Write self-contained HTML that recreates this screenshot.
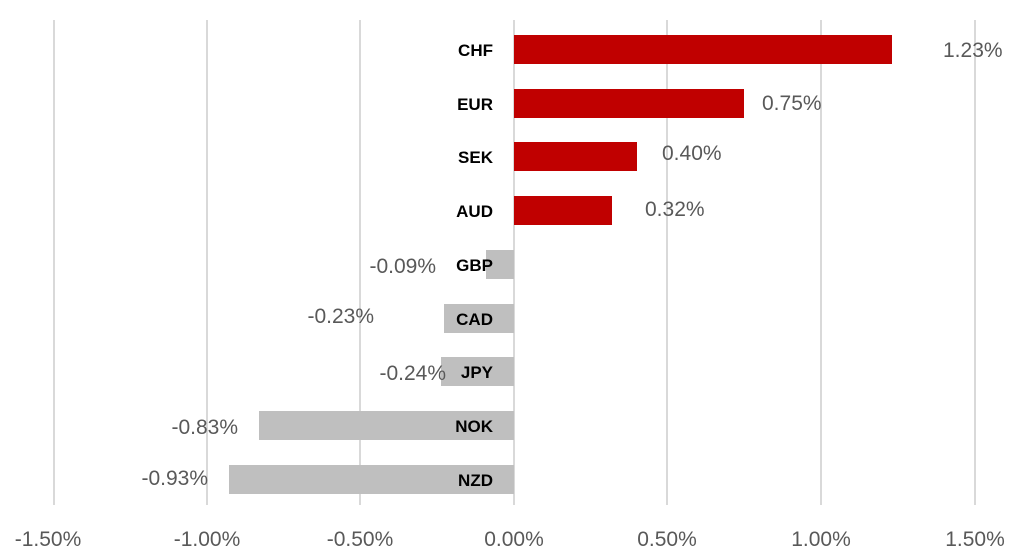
<!DOCTYPE html>
<html><head><meta charset="utf-8"><style>
body{margin:0;background:#fff;}
svg{display:block;}
.v{font-family:"Liberation Sans",sans-serif;font-size:21px;fill:#595959;}
.c{font-family:"Liberation Sans",sans-serif;font-size:17px;font-weight:bold;fill:#000;text-anchor:end;}
.t{font-family:"Liberation Sans",sans-serif;font-size:21px;fill:#595959;text-anchor:middle;}
</style></head><body>
<svg width="1022" height="557" xmlns="http://www.w3.org/2000/svg">
<g stroke="#d9d9d9" stroke-width="2">
<line x1="54" y1="20" x2="54" y2="505"/><line x1="207" y1="20" x2="207" y2="505"/>
<line x1="360" y1="20" x2="360" y2="505"/><line x1="514" y1="20" x2="514" y2="505"/>
<line x1="667" y1="20" x2="667" y2="505"/><line x1="821" y1="20" x2="821" y2="505"/>
<line x1="975" y1="20" x2="975" y2="505"/>
</g>
<g fill="#c00000">
<rect x="514" y="35" width="378" height="29"/>
<rect x="514" y="89" width="230" height="29"/>
<rect x="514" y="142" width="123" height="29"/>
<rect x="514" y="196" width="98" height="29"/>
</g>
<g fill="#bfbfbf">
<rect x="486" y="250" width="28" height="29"/>
<rect x="444" y="304" width="70" height="29"/>
<rect x="441" y="357" width="73" height="29"/>
<rect x="259" y="411" width="255" height="29"/>
<rect x="229" y="465" width="285" height="29"/>
</g>
<text class="c" x="493" y="56">CHF</text>
<text class="c" x="493" y="110">EUR</text>
<text class="c" x="493" y="163">SEK</text>
<text class="c" x="493" y="217">AUD</text>
<text class="c" x="493" y="271">GBP</text>
<text class="c" x="493" y="325">CAD</text>
<text class="c" x="493" y="378">JPY</text>
<text class="c" x="493" y="432">NOK</text>
<text class="c" x="493" y="486">NZD</text>
<text class="v" x="943" y="57">1.23%</text>
<text class="v" x="762" y="110">0.75%</text>
<text class="v" x="662" y="160">0.40%</text>
<text class="v" x="645" y="216">0.32%</text>
<text class="v" x="436" y="273" text-anchor="end">-0.09%</text>
<text class="v" x="374" y="323" text-anchor="end">-0.23%</text>
<text class="v" x="446" y="380" text-anchor="end">-0.24%</text>
<text class="v" x="238" y="434" text-anchor="end">-0.83%</text>
<text class="v" x="208" y="485" text-anchor="end">-0.93%</text>
<text class="t" x="48" y="546">-1.50%</text>
<text class="t" x="207" y="546">-1.00%</text>
<text class="t" x="360" y="546">-0.50%</text>
<text class="t" x="514" y="546">0.00%</text>
<text class="t" x="667" y="546">0.50%</text>
<text class="t" x="821" y="546">1.00%</text>
<text class="t" x="975" y="546">1.50%</text>
</svg>
</body></html>
